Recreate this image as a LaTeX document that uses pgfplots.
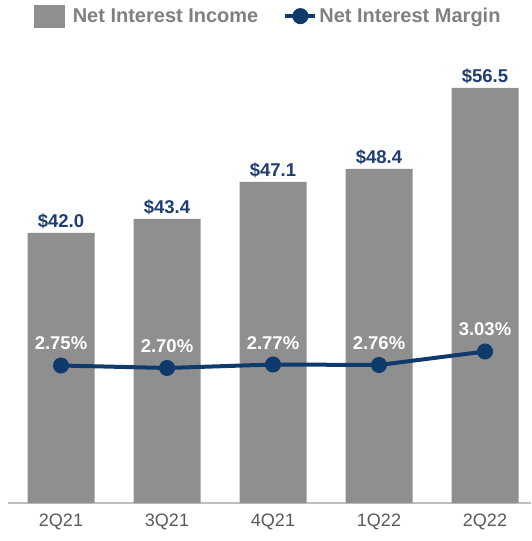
\documentclass[border=0pt]{standalone}
\usepackage{fontspec}
\setmainfont{Liberation Sans}
\usepackage{pgfplots}
\pgfplotsset{compat=1.18}

\definecolor{barGray}{HTML}{8F8F8F}
\definecolor{navy}{HTML}{0E3A6C}
\definecolor{labNavy}{HTML}{1F3D70}
\definecolor{legGray}{HTML}{808080}
\definecolor{tickGray}{HTML}{595959}
\definecolor{axGray}{HTML}{BFBFBF}

\pgfplotsset{
  common/.style={
    at={(8pt,38pt)}, anchor=south west,
    scale only axis, width=523pt, height=443pt,
    xmin=-0.5, xmax=4.434,
    /pgf/number format/assume math mode=true,
  }
}

\begin{document}
\begin{tikzpicture}
\path[use as bounding box] (0,0) rectangle (531pt,541pt);

% bars: net interest income
\begin{axis}[common,
  ymin=15, ymax=59.3,
  axis y line=none,
  axis x line*=bottom,
  x axis line style={draw=axGray, line width=1.3pt, -},
  xtick={0,1,2,3,4},
  xticklabels={2Q21,3Q21,4Q21,1Q22,2Q22},
  xtick style={draw=none},
  xticklabel style={font=\fontsize{18}{20}\selectfont, text=tickGray, yshift=-3pt},
  ybar, bar width=67pt,
  nodes near coords={\$\pgfmathprintnumber[fixed,zerofill,precision=1]{\pgfplotspointmeta}},
  every node near coord/.append style={font=\bfseries\fontsize{18.5}{20}\selectfont, text=labNavy, anchor=south, yshift=1pt},
]
\addplot[fill=barGray, draw=none] coordinates {(0,42.0) (1,43.4) (2,47.1) (3,48.4) (4,56.5)};
\end{axis}

% line: net interest margin
\begin{axis}[common,
  ymin=0, ymax=8.86,
  axis lines=none,
  legend columns=2,
  legend style={at={(0.498,1.099)}, anchor=center, draw=none, fill=none,
    font=\bfseries\fontsize{20}{22}\selectfont, text=legGray,
    /tikz/every even column/.append style={column sep=23pt}},
  nodes near coords={\pgfmathprintnumber[fixed,zerofill,precision=2]{\pgfplotspointmeta}\%},
  every node near coord/.append style={font=\bfseries\fontsize{18.5}{20}\selectfont, text=white, anchor=south, yshift=10pt},
]
\addlegendimage{legend image code/.code={\fill[barGray] (0pt,-11pt) rectangle (30pt,11pt);}}
\addlegendentry{\hspace{6pt}Net Interest Income}
\addplot[navy, line width=4pt, mark=*, mark size=6pt,
  legend image code/.code={\draw[navy, line width=4pt] (0pt,0pt) -- (30pt,0pt); \fill[navy] (15pt,0pt) circle (6pt);}]
  coordinates {(0,2.75) (1,2.70) (2,2.77) (3,2.76) (4,3.03)};
\addlegendentry{Net Interest Margin}
\end{axis}
\end{tikzpicture}
\end{document}
